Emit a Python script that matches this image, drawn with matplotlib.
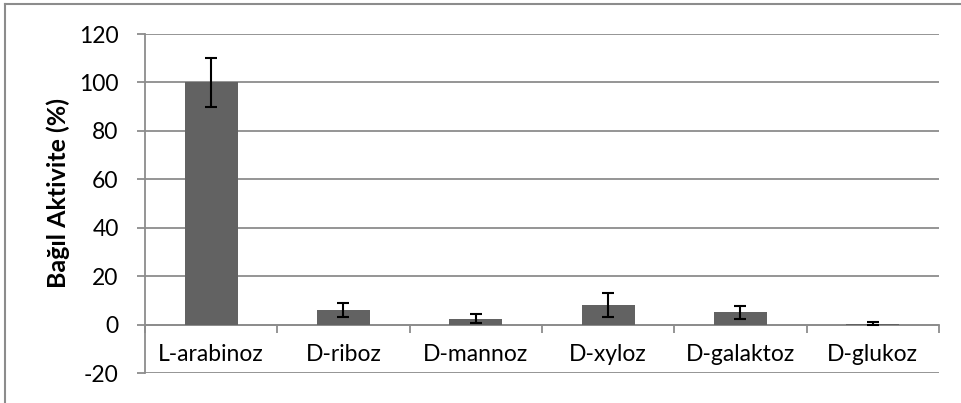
import matplotlib.pyplot as plt
import numpy as np
from matplotlib.lines import Line2D

# sugar substrates and relative activity (%)
sugars = ["L-arabinoz", "D-riboz", "D-mannoz", "D-xyloz", "D-galaktoz", "D-glukoz"]
activity = [100, 6.0, 2.5, 8.2, 5.0, 0.4]
errors = [10, 3.0, 1.9, 5.0, 2.8, 0.7]
yticks = [-20, 0, 20, 40, 60, 80, 100, 120]

plt.rcParams['font.family'] = ['Lato', 'DejaVu Sans']
plt.rcParams['axes.unicode_minus'] = False

fig = plt.figure(figsize=(9.61, 4.03), dpi=100)
ax = fig.add_axes([0.1509, 0.0744, 0.826, 0.8412])

x = np.arange(len(sugars))
ax.bar(x, activity, width=0.4, color="#626262", zorder=3)
ax.errorbar(x, activity, yerr=errors, fmt="none", ecolor="black",
            elinewidth=1.5, capsize=4.3, capthick=1.5, zorder=4)

grid_col = "#8c8c8c"
ax.set_ylim(-20, 120)
ax.set_xlim(-0.5, len(sugars) - 0.5)
ax.set_yticks(yticks)
ax.yaxis.grid(True, color=grid_col, linewidth=1.3, zorder=0)
ax.set_axisbelow(True)

for side in ("top", "right"):
    ax.spines[side].set_visible(False)
ax.spines["left"].set_color(grid_col)
ax.spines["left"].set_linewidth(1.3)
ax.spines["bottom"].set_position(("data", 0))
ax.spines["bottom"].set_color(grid_col)
ax.spines["bottom"].set_linewidth(1.3)

# category labels at centres, tick marks at boundaries
ax.set_xticks(x)
ax.set_xticklabels(sugars, fontsize=16.5)
ax.tick_params(axis="x", which="major", length=0, pad=14)
ax.set_xticks(np.arange(len(sugars) + 1) - 0.5, minor=True)
ax.tick_params(axis="x", which="minor", length=6, width=1.3, color=grid_col, direction="out")
ax.tick_params(axis="y", length=6, width=1.3, color=grid_col, labelsize=16.5, pad=13)

ax.set_ylabel("Bağıl Aktivite (%)", fontsize=18, fontweight="bold")
ax.yaxis.set_label_coords(-0.094, 0.53)

# outer chart frame (top and left edges)
fig.add_artist(Line2D([0.0052, 0.0052], [0, 0.99], transform=fig.transFigure,
                      color="#8c8c8c", linewidth=1.5))
fig.add_artist(Line2D([0.0052, 1], [0.99, 0.99], transform=fig.transFigure,
                      color="#8c8c8c", linewidth=1.5))

fig.savefig("out.png", dpi=100)
